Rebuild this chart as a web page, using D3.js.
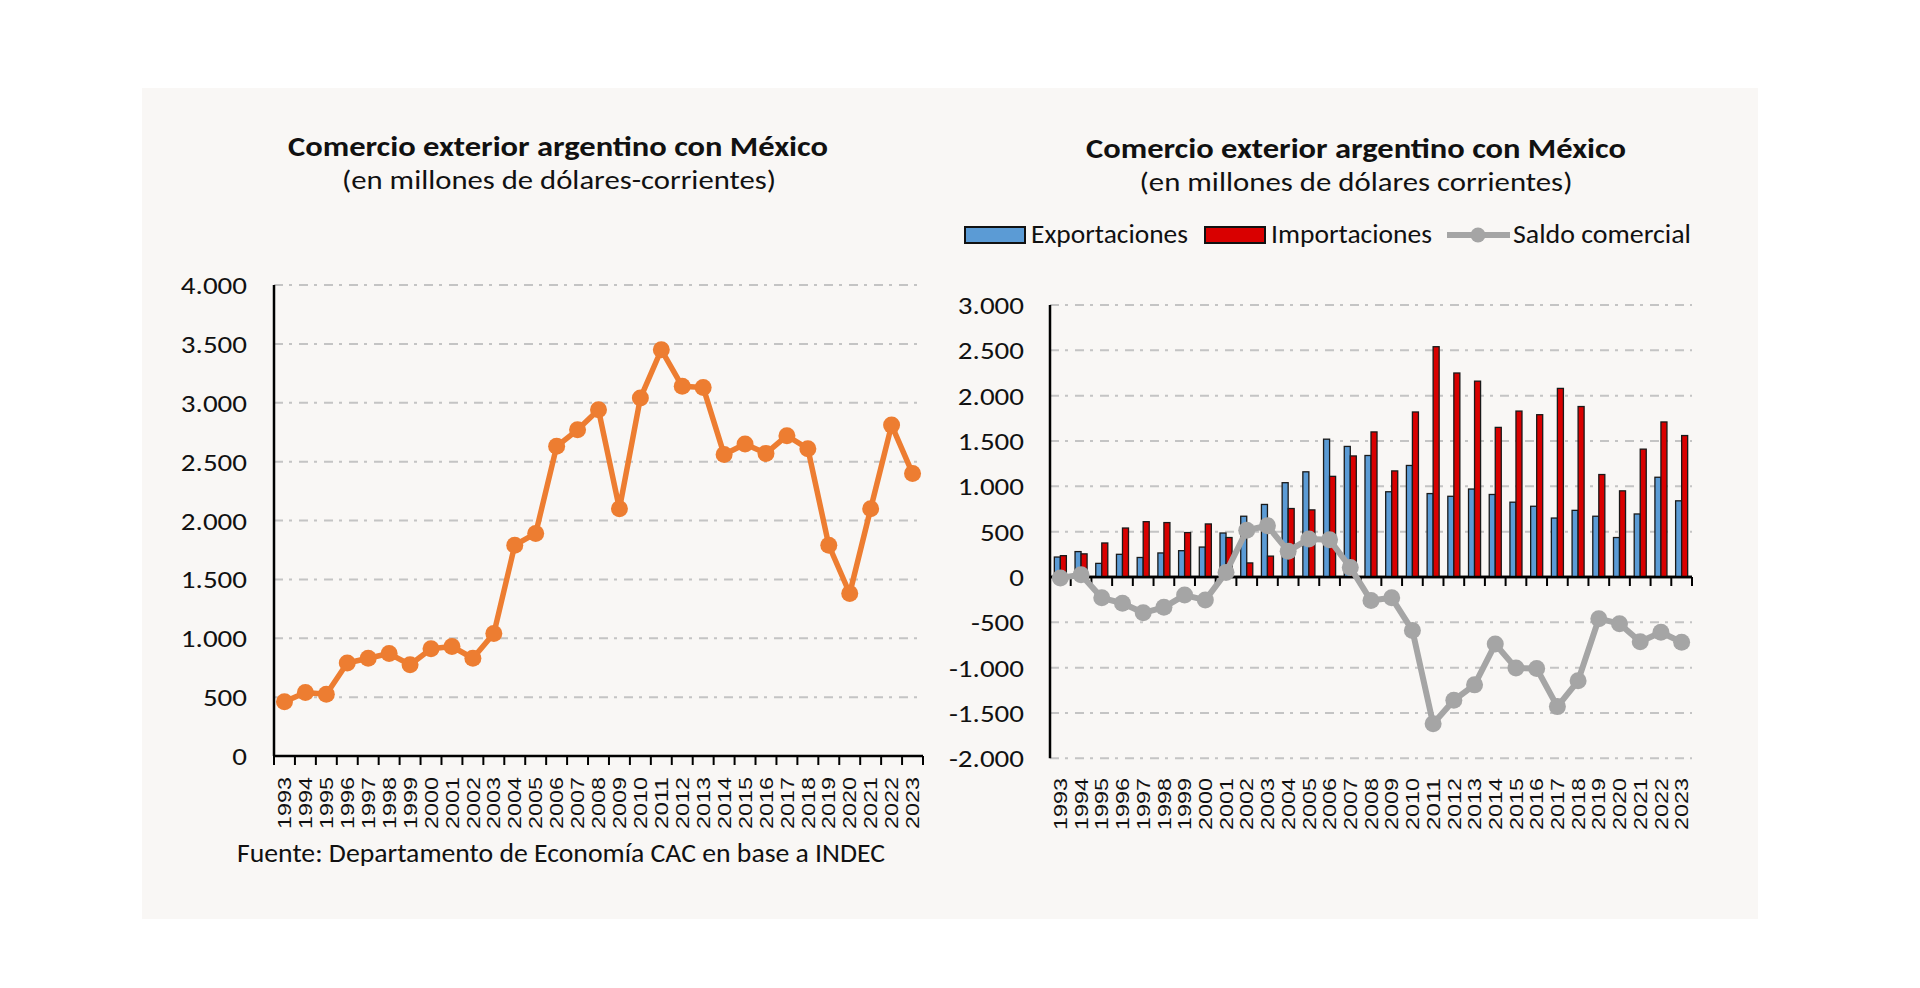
<!DOCTYPE html>
<html>
<head>
<meta charset="utf-8">
<script src="https://cdn.jsdelivr.net/npm/d3@7"></script>
<style>
  html, body { margin: 0; padding: 0; background: #ffffff; }
  svg { display: block; }
  text { font-family: Carlito, Lato, "Open Sans", sans-serif; fill: #111; }
  .yr { font-family: "Liberation Sans", Arial, sans-serif; }
</style>
</head>
<body>
<svg id="chart" width="1920" height="988"></svg>
<script>
// ---------------- DATA ----------------
const years = ["1993","1994","1995","1996","1997","1998","1999","2000","2001","2002",
  "2003","2004","2005","2006","2007","2008","2009","2010","2011","2012","2013",
  "2014","2015","2016","2017","2018","2019","2020","2021","2022","2023"];

// Left chart: total trade (exports + imports), millions USD
const totalTrade = [460, 540, 525, 790, 830, 870, 775, 910, 930, 830,
  1040, 1790, 1890, 2630, 2770, 2940, 2100, 3040, 3450, 3140, 3130,
  2560, 2650, 2570, 2720, 2610, 1790, 1380, 2100, 2810, 2400];

// Right chart series
const exportsData = [220, 280, 150, 250, 215, 265, 290, 330, 485, 670,
  800, 1040, 1160, 1520, 1440, 1340, 940, 1230, 920, 890, 970,
  910, 825, 780, 650, 735, 670, 435, 695, 1100, 840];
const importsData = [235, 255, 375, 540, 610, 600, 490, 585, 435, 155,
  230, 755, 740, 1110, 1335, 1600, 1170, 1820, 2540, 2250, 2160,
  1650, 1830, 1790, 2080, 1880, 1130, 950, 1410, 1710, 1560];
const tradeBalance = [-10, 25, -230, -290, -395, -335, -200, -255, 50, 515,
  565, 285, 420, 410, 105, -260, -230, -590, -1620, -1360, -1190,
  -740, -1005, -1010, -1430, -1145, -460, -515, -715, -610, -720];

const leftTicks = [0, 500, 1000, 1500, 2000, 2500, 3000, 3500, 4000];
const rightTicks = [-2000, -1500, -1000, -500, 0, 500, 1000, 1500, 2000, 2500, 3000];

const seriesNames = ["Exportaciones", "Importaciones", "Saldo comercial"];
const leftTitle = "Comercio exterior argentino con México";
const leftSubtitle = "(en millones de dólares-corrientes)";
const rightTitle = "Comercio exterior argentino con México";
const rightSubtitle = "(en millones de dólares corrientes)";
const sourceNote = "Fuente: Departamento de Economía CAC en base a INDEC";

// ---------------- STYLE ----------------
const ORANGE = "#ED7D31", GRAY = "#A5A5A5", BLUE = "#5B9BD5", RED = "#D90000";
const GRID = "#c4c4c4";
const fmt = d3.formatLocale({decimal: ",", thousands: ".", grouping: [3], currency: ["$", ""], minus: "-"}).format(",d");

const svg = d3.select("#chart");
svg.append("rect").attr("x", 142).attr("y", 88).attr("width", 1616).attr("height", 831).attr("fill", "#f9f7f5");

function fitText(sel, w) {
  sel.attr("textLength", w).attr("lengthAdjust", "spacingAndGlyphs");
}
function widen(sel, k) {
  sel.each(function () {
    const w = this.getComputedTextLength();
    d3.select(this).attr("textLength", w * k).attr("lengthAdjust", "spacingAndGlyphs");
  });
}

function drawFrame(opts) {
  const {x, y, ticks, gridX2, labelX, yearTop} = opts;
  const g = svg.append("g");
  const x0 = x.range()[0], x1 = x.range()[1];
  // gridlines
  g.selectAll(".grid").data(ticks.filter(t => t !== 0)).join("line")
    .attr("x1", x0).attr("x2", gridX2)
    .attr("y1", d => y(d)).attr("y2", d => y(d))
    .attr("stroke", GRID).attr("stroke-width", 2)
    .attr("stroke-dasharray", "9,6,3,7");
  // y tick labels
  g.selectAll(".ytl").data(ticks).join("text")
    .attr("x", labelX).attr("y", d => y(d)).attr("dy", "0.36em")
    .attr("text-anchor", "end").attr("font-size", 25)
    .text(d => fmt(d))
    .call(widen, 1.16);
  // y axis line
  g.append("line").attr("x1", x0).attr("x2", x0)
    .attr("y1", y(ticks[ticks.length - 1])).attr("y2", y(ticks[0]))
    .attr("stroke", "#000").attr("stroke-width", 2.5);
  // x axis line + boundary ticks
  g.append("line").attr("x1", x0).attr("x2", x1)
    .attr("y1", y(0)).attr("y2", y(0))
    .attr("stroke", "#000").attr("stroke-width", 2.5);
  const bounds = years.map(d => x(d)).concat([x1]);
  g.selectAll(".xt").data(bounds).join("line")
    .attr("x1", d => d).attr("x2", d => d)
    .attr("y1", y(0)).attr("y2", y(0) + 9)
    .attr("stroke", "#000").attr("stroke-width", 2);
  // year labels
  g.selectAll(".yl").data(years).join("text")
    .attr("class", "yr")
    .attr("transform", d => `translate(${x(d) + x.bandwidth() / 2},${yearTop}) rotate(-90)`)
    .attr("dy", "0.36em").attr("text-anchor", "end").attr("font-size", 18.5)
    .text(d => d)
    .call(fitText, 52);
  return g;
}

// ---------------- LEFT CHART ----------------
const xL = d3.scaleBand().domain(years).range([274, 923]);
const yL = d3.scaleLinear().domain([0, 4000]).range([756, 285]);

svg.append("text").attr("x", 558).attr("y", 156).attr("text-anchor", "middle")
  .attr("font-size", 28).attr("font-weight", "bold").text(leftTitle).call(fitText, 540);
svg.append("text").attr("x", 559).attr("y", 189).attr("text-anchor", "middle")
  .attr("font-size", 26).text(leftSubtitle).call(fitText, 434);

drawFrame({x: xL, y: yL, ticks: leftTicks, gridX2: 918, labelX: 247, yearTop: 777});

const lineL = d3.line().x((d, i) => xL(years[i]) + xL.bandwidth() / 2).y(d => yL(d));
svg.append("path").datum(totalTrade).attr("d", lineL)
  .attr("fill", "none").attr("stroke", ORANGE).attr("stroke-width", 5.5).attr("stroke-linejoin", "round");
svg.append("g").selectAll("circle").data(totalTrade).join("circle")
  .attr("cx", (d, i) => xL(years[i]) + xL.bandwidth() / 2).attr("cy", d => yL(d))
  .attr("r", 8.5).attr("fill", ORANGE);

svg.append("text").attr("x", 237).attr("y", 862).attr("font-size", 26)
  .text(sourceNote).call(fitText, 648);

// ---------------- RIGHT CHART ----------------
const xR = d3.scaleBand().domain(years).range([1050, 1692]);
const yR = d3.scaleLinear().domain([-2000, 3000]).range([758.3, 305]);
const xSub = d3.scaleBand().domain(seriesNames.slice(0, 2)).range([0, xR.bandwidth()])
  .paddingInner(0).paddingOuter(0.72);

svg.append("text").attr("x", 1356).attr("y", 158).attr("text-anchor", "middle")
  .attr("font-size", 28).attr("font-weight", "bold").text(rightTitle).call(fitText, 540);
svg.append("text").attr("x", 1356).attr("y", 191).attr("text-anchor", "middle")
  .attr("font-size", 26).text(rightSubtitle).call(fitText, 433);

// legend
const lg = svg.append("g");
lg.append("rect").attr("x", 965).attr("y", 227).attr("width", 60).attr("height", 16)
  .attr("fill", BLUE).attr("stroke", "#111").attr("stroke-width", 2);
lg.append("text").attr("x", 1031).attr("y", 243).attr("font-size", 26).text(seriesNames[0]).call(fitText, 157);
lg.append("rect").attr("x", 1205).attr("y", 227).attr("width", 60).attr("height", 16)
  .attr("fill", RED).attr("stroke", "#111").attr("stroke-width", 2);
lg.append("text").attr("x", 1271).attr("y", 243).attr("font-size", 26).text(seriesNames[1]).call(fitText, 161);
lg.append("line").attr("x1", 1447).attr("x2", 1510).attr("y1", 235).attr("y2", 235)
  .attr("stroke", GRAY).attr("stroke-width", 6);
lg.append("circle").attr("cx", 1478).attr("cy", 235).attr("r", 7.5).attr("fill", GRAY);
lg.append("text").attr("x", 1513).attr("y", 243).attr("font-size", 26).text(seriesNames[2]).call(fitText, 178);

drawFrame({x: xR, y: yR, ticks: rightTicks, gridX2: 1692, labelX: 1024, yearTop: 778});

// bars
const barData = [];
years.forEach((yr, i) => {
  barData.push({year: yr, key: seriesNames[0], v: exportsData[i]});
  barData.push({year: yr, key: seriesNames[1], v: importsData[i]});
});
svg.append("g").selectAll("rect").data(barData).join("rect")
  .attr("x", d => xR(d.year) + xSub(d.key))
  .attr("width", xSub.bandwidth())
  .attr("y", d => yR(Math.max(0, d.v)))
  .attr("height", d => Math.abs(yR(d.v) - yR(0)))
  .attr("fill", d => d.key === seriesNames[0] ? BLUE : RED)
  .attr("stroke", "#1a1a1a").attr("stroke-width", 1.3);

// redraw x axis over bars
svg.append("line").attr("x1", 1050).attr("x2", 1692).attr("y1", yR(0)).attr("y2", yR(0))
  .attr("stroke", "#000").attr("stroke-width", 2.5);

// balance line
const lineR = d3.line().x((d, i) => xR(years[i]) + xR.bandwidth() / 2).y(d => yR(d));
svg.append("path").datum(tradeBalance).attr("d", lineR)
  .attr("fill", "none").attr("stroke", GRAY).attr("stroke-width", 6).attr("stroke-linejoin", "round");
svg.append("g").selectAll("circle").data(tradeBalance).join("circle")
  .attr("cx", (d, i) => xR(years[i]) + xR.bandwidth() / 2).attr("cy", d => yR(d))
  .attr("r", 8.5).attr("fill", GRAY);
</script>
</body>
</html>
